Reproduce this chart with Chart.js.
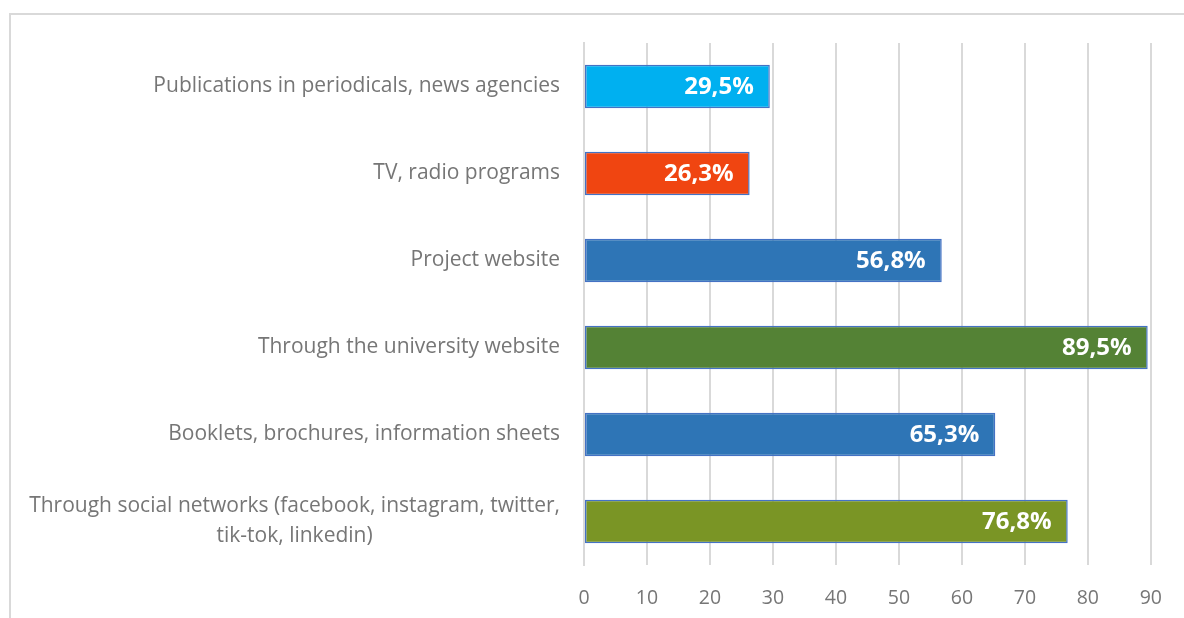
<!DOCTYPE html>
<html>
<head>
<meta charset="utf-8">
<script src="https://cdn.jsdelivr.net/npm/chart.js@4"></script>
<style>
  html, body { margin: 0; padding: 0; background: #fff; overflow: hidden; }
  #wrap { position: relative; width: 1184px; height: 618px; }
  #frame { position: absolute; left: 9px; top: 13px; width: 1300px; height: 700px;
           border: 2px solid #d9d9d9; box-sizing: border-box; }
  canvas { position: absolute; left: 0; top: 0; }
</style>
</head>
<body>
<div id="wrap">
  <div id="frame"></div>
  <canvas id="c" width="1184" height="618"></canvas>
</div>
<script>
// Survey: channels through which respondents learned about the project (%)
const categories = [
  ['Publications in periodicals, news agencies'],
  ['TV, radio programs'],
  ['Project website'],
  ['Through the university website'],
  ['Booklets, brochures, information sheets'],
  ['Through social networks (facebook, instagram, twitter,', 'tik-tok, linkedin)']
];
const shares = [29.5, 26.3, 56.8, 89.5, 65.3, 76.8];
const barColors = ['#00b0f0', '#f04511', '#2e75b6', '#548235', '#2e75b6', '#7a9525'];
const xTicks = [0, 10, 20, 30, 40, 50, 60, 70, 80, 90];

const labelFont = '"Open Sans", "Noto Sans", sans-serif';
const textGray = '#767676';

// Category labels: right-aligned block, multi-line entries centred within the block
const categoryLabels = {
  id: 'categoryLabels',
  afterDraw(chart) {
    const { ctx } = chart;
    const yScale = chart.scales.y;
    const rightEdge = chart.chartArea.left - 24;
    const lineH = 30;
    ctx.save();
    ctx.font = '400 21px ' + labelFont;
    ctx.fillStyle = textGray;
    ctx.textBaseline = 'middle';
    ctx.textAlign = 'center';
    categories.forEach((lines, i) => {
      const yc = yScale.getPixelForTick(i);
      const w = Math.max(...lines.map(l => ctx.measureText(l).width));
      const xc = rightEdge - w / 2;
      const y0 = yc - (lines.length - 1) * lineH / 2;
      lines.forEach((l, k) => ctx.fillText(l, xc, y0 + k * lineH));
    });
    ctx.restore();
  }
};

// Value labels inside the bar ends
const valueLabels = {
  id: 'valueLabels',
  afterDatasetsDraw(chart) {
    const { ctx } = chart;
    const meta = chart.getDatasetMeta(0);
    ctx.save();
    ctx.font = '700 24px ' + labelFont;
    ctx.fillStyle = '#ffffff';
    ctx.textAlign = 'right';
    ctx.textBaseline = 'middle';
    meta.data.forEach((bar, i) => {
      const txt = shares[i].toFixed(1).replace('.', ',') + '%';
      ctx.fillText(txt, bar.x - 16, bar.y + 1);
    });
    ctx.restore();
  }
};

new Chart(document.getElementById('c'), {
  type: 'bar',
  data: {
    labels: categories.map(c => c.join(' ')),
    datasets: [{
      data: shares,
      backgroundColor: barColors,
      borderColor: '#4472c4',
      borderWidth: 1.5,
      borderSkipped: false,
      barPercentage: 0.5,
      categoryPercentage: 1.0
    }]
  },
  options: {
    indexAxis: 'y',
    responsive: false,
    animation: false,
    devicePixelRatio: 1,
    layout: { padding: { top: 43, right: 28, left: 0, bottom: 0 } },
    plugins: { legend: { display: false }, tooltip: { enabled: false } },
    scales: {
      x: {
        min: 0,
        max: 90,
        afterBuildTicks(scale) { scale.ticks = xTicks.map(v => ({ value: v })); },
        afterFit(scale) { scale.height = 53; },
        grid: { color: '#d9d9d9', lineWidth: 2, drawTicks: false },
        border: { display: false },
        ticks: {
          padding: 22,
          color: textGray,
          font: { family: labelFont, size: 19.5 }
        }
      },
      y: {
        afterFit(scale) { scale.width = 584; },
        grid: { display: false, drawTicks: false },
        border: { display: true, color: '#d9d9d9', width: 2 },
        ticks: { display: false }
      }
    }
  },
  plugins: [categoryLabels, valueLabels]
});
</script>
</body>
</html>
